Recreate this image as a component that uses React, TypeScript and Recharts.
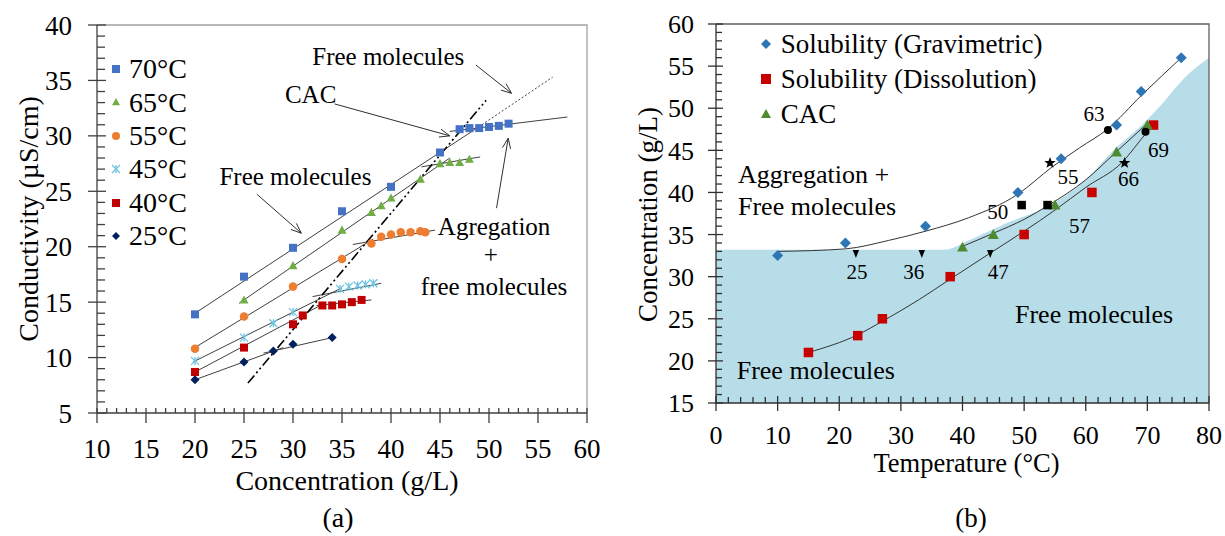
import React from 'react';
import { ComposedChart, Scatter, Line, Area, XAxis, YAxis, ReferenceLine, Legend } from 'recharts';

const SERIF = '"Liberation Serif", "Times New Roman", Times, serif';

const range = (a: number, b: number, step: number) => {
  const r: number[] = [];
  for (let v = a; v <= b + 1e-9; v += step) r.push(Math.round(v * 100) / 100);
  return r;
};

// ---------------- Panel (a) data ----------------
const aXTicks = [10, 15, 20, 25, 30, 35, 40, 45, 50, 55, 60];
const aYTicks = [5, 10, 15, 20, 25, 30, 35, 40];
const aXMinor = range(10, 60, 1);
const aYMinor = range(5, 40, 1);

const a70 = [
  { x: 20, y: 13.9 }, { x: 25, y: 17.3 }, { x: 30, y: 19.9 }, { x: 35, y: 23.2 }, { x: 40, y: 25.4 },
  { x: 45, y: 28.5 }, { x: 47, y: 30.6 }, { x: 48, y: 30.7 }, { x: 49, y: 30.7 }, { x: 50, y: 30.8 },
  { x: 51, y: 30.9 }, { x: 52, y: 31.1 },
];
const a65 = [
  { x: 25, y: 15.2 }, { x: 30, y: 18.3 }, { x: 35, y: 21.5 }, { x: 38, y: 23.1 }, { x: 39, y: 23.7 },
  { x: 40, y: 24.4 }, { x: 43, y: 26.1 }, { x: 45, y: 27.5 }, { x: 46, y: 27.6 }, { x: 47, y: 27.6 },
  { x: 48, y: 27.9 },
];
const a55 = [
  { x: 20, y: 10.8 }, { x: 25, y: 13.7 }, { x: 30, y: 16.4 }, { x: 35, y: 18.9 }, { x: 38, y: 20.3 },
  { x: 39, y: 20.9 }, { x: 40, y: 21.1 }, { x: 41, y: 21.3 }, { x: 42, y: 21.3 }, { x: 43, y: 21.4 },
  { x: 43.5, y: 21.3 },
];
const a45 = [
  { x: 20, y: 9.7 }, { x: 25, y: 11.8 }, { x: 28, y: 13.1 }, { x: 30, y: 14.1 }, { x: 34.8, y: 16.2 },
  { x: 35.7, y: 16.4 }, { x: 36.6, y: 16.5 }, { x: 37.4, y: 16.6 }, { x: 38.2, y: 16.7 },
];
const a40 = [
  { x: 20, y: 8.7 }, { x: 25, y: 10.9 }, { x: 30, y: 13.0 }, { x: 31, y: 13.8 }, { x: 33, y: 14.7 },
  { x: 34, y: 14.7 }, { x: 35, y: 14.8 }, { x: 36, y: 15.0 }, { x: 37, y: 15.2 },
];
const a25 = [
  { x: 20, y: 8.0 }, { x: 25, y: 9.6 }, { x: 28, y: 10.6 }, { x: 30, y: 11.2 }, { x: 34, y: 11.8 },
];

// trend lines (data space endpoints)
const aFitLines = [
  [[20, 14.0], [48.6, 30.6]],
  [[46, 30.4], [58, 31.7]],
  [[24.5, 14.9], [46, 28.0]],
  [[43.1, 27.2], [49.1, 28.1]],
  [[19.8, 10.8], [38.2, 20.7]],
  [[36.1, 20.2], [44.5, 21.5]],
  [[19.8, 9.6], [35, 16.3]],
  [[32, 15.5], [39, 16.7]],
  [[19.8, 8.6], [33, 14.8]],
  [[32.4, 14.7], [38, 15.2]],
  [[20, 8.0], [29, 10.9]],
  [[27, 10.4], [34, 11.8]],
];
const aDottedLine = [[48.6, 30.6], [56.5, 35.3]];
const aCacLine = [[25.4, 7.7], [49.7, 33.2]];
const aArrows = [
  [[48.66, 36.39], [52.3, 33.84]],
  [[34.25, 32.88], [46.0, 30.0]],
  [[26.31, 24.74], [30.85, 21.22]],
  [[50.77, 23.48], [51.96, 29.79]],
];
const aNotes = [
  { x: 39.72, y: 36.39, text: 'Free molecules' },
  { x: 31.8, y: 32.94, text: 'CAC' },
  { x: 30.25, y: 25.58, text: 'Free molecules' },
  { x: 50.52, y: 21.07, text: 'Agregation' },
  { x: 50.19, y: 18.57, text: '+' },
  { x: 50.52, y: 15.66, text: 'free molecules' },
];
// plot frame corners (data space)
const aAxisPath = [{ x: 60, y: 5 }, { x: 10, y: 5 }, { x: 10, y: 40 }];
const aFramePath = [{ x: 10, y: 40 }, { x: 60, y: 40 }, { x: 60, y: 5 }];

// ---------------- Panel (b) data ----------------
const bXTicks = [0, 10, 20, 30, 40, 50, 60, 70, 80];
const bYTicks = [15, 20, 25, 30, 35, 40, 45, 50, 55, 60];
const bXMinor = range(0, 80, 2);
const bYMinor = range(15, 60, 1);

const bGrav = [
  { x: 10, y: 32.5 }, { x: 21, y: 34 }, { x: 34, y: 36 }, { x: 49, y: 40 },
  { x: 56, y: 44 }, { x: 65, y: 48 }, { x: 69, y: 52 }, { x: 75.5, y: 56 },
];
const bDiss = [
  { x: 15, y: 21 }, { x: 23, y: 23 }, { x: 27, y: 25 }, { x: 38, y: 30 },
  { x: 50, y: 35 }, { x: 61, y: 40 }, { x: 71, y: 48 },
];
const bCac = [
  { x: 40, y: 33.5 }, { x: 45, y: 35 }, { x: 55, y: 38.5 }, { x: 65, y: 44.8 }, { x: 70, y: 48 },
];
const bGravCurve = [
  { x: 10, y: 33.0 }, { x: 21, y: 33.3 }, { x: 28, y: 34.3 }, { x: 34, y: 35.4 }, { x: 41, y: 37.0 },
  { x: 49, y: 39.8 }, { x: 54.5, y: 43.0 }, { x: 59, y: 45.3 }, { x: 63.5, y: 47.5 }, { x: 69, y: 51.5 },
  { x: 75.5, y: 56 },
];
const bDissCurve = [
  { x: 15, y: 21 }, { x: 23, y: 23.1 }, { x: 27, y: 24.7 }, { x: 33, y: 27.3 }, { x: 38, y: 29.7 },
  { x: 44.5, y: 32.8 }, { x: 50, y: 35.4 }, { x: 55, y: 37.9 }, { x: 60, y: 40.6 }, { x: 65.8, y: 43.5 },
  { x: 70, y: 47.2 }, { x: 71, y: 48 },
];
const bCacCurve = [
  { x: 40, y: 33.6 }, { x: 45, y: 35.15 }, { x: 50, y: 36.8 }, { x: 54, y: 38.5 }, { x: 60, y: 41.5 },
  { x: 65, y: 44.85 }, { x: 70, y: 48.2 },
];
const bRegion = [
  { x: 0, y: 33.2 }, { x: 37, y: 33.2 }, { x: 41, y: 34.3 }, { x: 47, y: 36.3 }, { x: 55, y: 38.8 },
  { x: 60, y: 41.5 }, { x: 64.5, y: 45 }, { x: 68.8, y: 47.8 }, { x: 72, y: 50.2 }, { x: 76, y: 53.6 },
  { x: 80, y: 56 },
];
const bTriDown = [{ x: 22.7, y: 32.7, label: '25' }, { x: 33.4, y: 32.7, label: '36' }, { x: 44.5, y: 32.7, label: '47' }];
const bBlackSq = [{ x: 49.6, y: 38.5, label: '50' }, { x: 53.8, y: 38.5, label: '57' }];
const bStars = [{ x: 54.2, y: 43.5, label: '55' }, { x: 66.3, y: 43.5, label: '66' }];
const bDots = [{ x: 63.6, y: 47.4, label: '63' }, { x: 69.7, y: 47.2, label: '69' }];
const bNotes = [
  { x: 3.57, y: 41.09, text: 'Aggregation +' },
  { x: 3.57, y: 37.32, text: 'Free molecules' },
  { x: 3.36, y: 17.9, text: 'Free molecules' },
  { x: 48.52, y: 24.45, text: 'Free molecules' },
];
const bAxisPath = [{ x: 80, y: 15 }, { x: 0, y: 15 }, { x: 0, y: 60 }];
const bFramePath = [{ x: 0, y: 60 }, { x: 80, y: 60 }, { x: 80, y: 15 }];

// ---------------- styles ----------------
const labelOffsetB: Record<string, [number, number]> = {
  '25': [1, 18], '36': [-8, 18], '47': [8, 18], '50': [-24, 7], '57': [32, 21],
  '55': [18, 14], '66': [4, 16], '63': [-14, -16], '69': [13, 18],
};

type Kind = 'square' | 'triangle' | 'circle' | 'asterisk' | 'diamond' | 'tridown' | 'star';

function Marker({ kind, cx, cy, size, color }: { kind: Kind; cx: number; cy: number; size: number; color: string }) {
  const h = size / 2;
  switch (kind) {
    case 'square':
      return <rect x={cx - h} y={cy - h} width={size} height={size} fill={color} />;
    case 'circle':
      return <circle cx={cx} cy={cy} r={h} fill={color} />;
    case 'triangle':
      return <polygon points={`${cx},${cy - h} ${cx + h},${cy + h * 0.8} ${cx - h},${cy + h * 0.8}`} fill={color} />;
    case 'tridown':
      return <polygon points={`${cx - h * 0.8},${cy - h} ${cx + h * 0.8},${cy - h} ${cx},${cy + h}`} fill={color} />;
    case 'diamond':
      return <polygon points={`${cx},${cy - h} ${cx + h},${cy} ${cx},${cy + h} ${cx - h},${cy}`} fill={color} />;
    case 'asterisk':
      return (
        <g stroke={color} strokeWidth={1.3}>
          <line x1={cx - h} y1={cy - h} x2={cx + h} y2={cy + h} />
          <line x1={cx - h} y1={cy + h} x2={cx + h} y2={cy - h} />
          <line x1={cx} y1={cy - h} x2={cx} y2={cy + h} />
        </g>
      );
    case 'star': {
      const pts: string[] = [];
      for (let i = 0; i < 10; i++) {
        const r = i % 2 === 0 ? h : h * 0.42;
        const ang = -Math.PI / 2 + (i * Math.PI) / 5;
        pts.push(`${cx + r * Math.cos(ang)},${cy + r * Math.sin(ang)}`);
      }
      return <polygon points={pts.join(' ')} fill={color} />;
    }
  }
  return null;
}

const aSeries = [
  { name: '70°C', data: a70, kind: 'square' as Kind, color: '#4472C4', size: 8 },
  { name: '65°C', data: a65, kind: 'triangle' as Kind, color: '#70AD47', size: 9 },
  { name: '55°C', data: a55, kind: 'circle' as Kind, color: '#ED7D31', size: 8.5 },
  { name: '45°C', data: a45, kind: 'asterisk' as Kind, color: '#6CC3E0', size: 8 },
  { name: '40°C', data: a40, kind: 'square' as Kind, color: '#C00000', size: 8 },
  { name: '25°C', data: a25, kind: 'diamond' as Kind, color: '#002060', size: 9 },
];
const bSeries = [
  { name: 'Solubility (Gravimetric)', data: bGrav, kind: 'diamond' as Kind, color: '#2E75B6', size: 11 },
  { name: 'Solubility (Dissolution)', data: bDiss, kind: 'square' as Kind, color: '#C80000', size: 9.5 },
  { name: 'CAC', data: bCac, kind: 'triangle' as Kind, color: '#4E8B30', size: 11 },
];

const AX_A = '#404040';
const AX_B = '#303030';

const ArrowShape = (props: any) => {
  const { x1, y1, x2, y2 } = props;
  const ang = Math.atan2(y2 - y1, x2 - x1);
  const L = 11;
  const a = 0.38;
  const p1 = `${x2 - L * Math.cos(ang - a)},${y2 - L * Math.sin(ang - a)}`;
  const p2 = `${x2 - L * Math.cos(ang + a)},${y2 - L * Math.sin(ang + a)}`;
  return (
    <g>
      <line x1={x1} y1={y1} x2={x2} y2={y2} stroke="#303030" strokeWidth={1} />
      <polyline points={`${p1} ${x2},${y2} ${p2}`} fill="none" stroke="#303030" strokeWidth={1} />
    </g>
  );
};

const makeLegend = (series: typeof aSeries, rowH: number, fontSize: number, gap: number, msize: number) => (props: any) => {
  const names = series.map((s) => s.name);
  const items = (props.payload || [])
    .filter((p: any) => names.includes(p.value))
    .sort((p: any, q: any) => names.indexOf(p.value) - names.indexOf(q.value));
  return (
    <div>
      {items.map((it: any) => {
        const s = series.find((z) => z.name === it.value)!;
        return (
          <div key={it.value} style={{ display: 'flex', alignItems: 'center', height: rowH }}>
            <svg width={16} height={16} style={{ flex: 'none', display: 'block' }}>
              <Marker kind={s.kind} cx={8} cy={8} size={msize} color={s.color} />
            </svg>
            <span style={{ marginLeft: gap, fontFamily: SERIF, fontSize, lineHeight: `${rowH}px`, color: '#000', whiteSpace: 'nowrap' }}>
              {it.value}
            </span>
          </div>
        );
      })}
    </div>
  );
};

const NoteA = (p: any) => (
  <text x={p.cx} y={p.cy} textAnchor="middle" fontFamily={SERIF} fontSize={25} fill="#000">
    {p.payload.text}
  </text>
);
const NoteB = (p: any) => (
  <text x={p.cx} y={p.cy} textAnchor="start" fontFamily={SERIF} fontSize={26} fill="#000">
    {p.payload.text}
  </text>
);
const blackMarker = (kind: Kind, size: number) => (p: any) => {
  const off = labelOffsetB[p.payload.label] || [0, 0];
  return (
    <g>
      <Marker kind={kind} cx={p.cx} cy={p.cy} size={size} color="#000" />
      <text x={p.cx + off[0]} y={p.cy + off[1]} textAnchor="middle" dominantBaseline="central" fontFamily={SERIF} fontSize={21} fill="#000">
        {p.payload.label}
      </text>
    </g>
  );
};

// tick marks drawn as scatter shapes placed on the axes through the chart scales
const xTickMark = (inner: number, outer: number, minorInner: number, color: string) => (p: any) => {
  const major = p.payload.major;
  const up = major ? inner : minorInner;
  const down = major ? outer : 0;
  return <line x1={p.cx} y1={p.cy - up} x2={p.cx} y2={p.cy + down} stroke={color} strokeWidth={1.3} />;
};
const yTickMark = (inner: number, outer: number, minorInner: number, color: string) => (p: any) => {
  const major = p.payload.major;
  const right = major ? inner : minorInner;
  const left = major ? outer : 0;
  return <line x1={p.cx - left} y1={p.cy} x2={p.cx + right} y2={p.cy} stroke={color} strokeWidth={1.3} />;
};
const NoShape = () => <g />;

const seg = (s: number[][]) => [{ x: s[0][0], y: s[0][1] }, { x: s[1][0], y: s[1][1] }];

export default function App() {
  const aXTickPts = aXMinor.map((v) => ({ x: v, y: 5, major: aXTicks.includes(v) }));
  const aYTickPts = aYMinor.map((v) => ({ x: 10, y: v, major: aYTicks.includes(v) }));
  const bXTickPts = bXMinor.map((v) => ({ x: v, y: 15, major: bXTicks.includes(v) }));
  const bYTickPts = bYMinor.map((v) => ({ x: 0, y: v, major: bYTicks.includes(v) }));
  return (
    <div style={{ position: 'absolute', left: 0, top: 0, width: 1225, height: 536, background: '#fff' }}>
      {/* Panel (a) */}
      <div style={{ position: 'absolute', left: 0, top: 0 }}>
        <ComposedChart width={612} height={536} margin={{ top: 25, right: 25, bottom: 122, left: 96 }}>
          <XAxis dataKey="x" type="number" domain={[10, 60]} ticks={aXTicks} interval={0} height={1}
            tickSize={10} tickMargin={16} axisLine={false} tickLine={false}
            tick={{ fontFamily: SERIF, fontSize: 27, fill: '#000' }} />
          <YAxis dataKey="y" type="number" domain={[5, 40]} ticks={aYTicks} interval={0} width={1}
            tickSize={9} tickMargin={16} axisLine={false} tickLine={false}
            tick={{ fontFamily: SERIF, fontSize: 27, fill: '#000' }} />
          <Scatter data={aFramePath} legendType="none" isAnimationActive={false} shape={NoShape}
            line={{ stroke: '#A0A0A0', strokeWidth: 1.3 }} lineType="joint" />
          <Scatter data={aAxisPath} legendType="none" isAnimationActive={false} shape={NoShape}
            line={{ stroke: AX_A, strokeWidth: 1.3 }} lineType="joint" />
          <Scatter data={aXTickPts} legendType="none" isAnimationActive={false} shape={xTickMark(5, 10, 5, AX_A)} />
          <Scatter data={aYTickPts} legendType="none" isAnimationActive={false} shape={yTickMark(9, 9, 8, AX_A)} />
          {aFitLines.map((s, i) => (
            <ReferenceLine key={'f' + i} segment={seg(s)} stroke="#404040" strokeWidth={1} ifOverflow="visible" />
          ))}
          <ReferenceLine segment={seg(aDottedLine)} stroke="#404040" strokeWidth={1} strokeDasharray="2 2" ifOverflow="visible" />
          <ReferenceLine segment={seg(aCacLine)} stroke="#000" strokeWidth={1.6} strokeDasharray="10 3 2 3 2 3" ifOverflow="visible" />
          {aArrows.map((s, i) => (
            <ReferenceLine key={'a' + i} segment={seg(s)} shape={ArrowShape} ifOverflow="visible" />
          ))}
          {aSeries.map((s) => (
            <Scatter key={s.name} name={s.name} data={s.data} fill={s.color} isAnimationActive={false}
              shape={(p: any) => <Marker kind={s.kind} cx={p.cx} cy={p.cy} size={s.size} color={s.color} />} />
          ))}
          <Scatter data={aNotes} legendType="none" isAnimationActive={false} shape={NoteA} />
          <Legend layout="vertical" align="center" verticalAlign="middle"
            wrapperStyle={{ left: 108, top: 52.3, width: 'auto', height: 'auto' }}
            content={makeLegend(aSeries, 33.4, 28, 5, 8)} />
        </ComposedChart>
      </div>

      {/* Panel (b) */}
      <div style={{ position: 'absolute', left: 612, top: 0 }}>
        <ComposedChart width={613} height={536} margin={{ top: 24, right: 16, bottom: 132, left: 103 }}>
          <XAxis dataKey="x" type="number" domain={[0, 80]} ticks={bXTicks} interval={0} height={1}
            tickSize={8} tickMargin={15} axisLine={false} tickLine={false}
            tick={{ fontFamily: SERIF, fontSize: 26, fill: '#000' }} />
          <YAxis dataKey="y" type="number" domain={[15, 60]} ticks={bYTicks} interval={0} width={1}
            tickSize={8} tickMargin={14} axisLine={false} tickLine={false}
            tick={{ fontFamily: SERIF, fontSize: 26, fill: '#000' }} />
          <Area data={bRegion} dataKey="y" type="monotone" fill="#B7DEE8" fillOpacity={1} stroke="none"
            baseValue={15} isAnimationActive={false} legendType="none" />
          <Scatter data={bFramePath} legendType="none" isAnimationActive={false} shape={NoShape}
            line={{ stroke: '#606060', strokeWidth: 1.3 }} lineType="joint" />
          <Scatter data={bAxisPath} legendType="none" isAnimationActive={false} shape={NoShape}
            line={{ stroke: AX_B, strokeWidth: 1.3 }} lineType="joint" />
          <Scatter data={bXTickPts} legendType="none" isAnimationActive={false} shape={xTickMark(7, 8, 6, AX_B)} />
          <Scatter data={bYTickPts} legendType="none" isAnimationActive={false} shape={yTickMark(7, 8, 6, AX_B)} />
          <Line data={bGravCurve} dataKey="y" type="monotone" stroke="#333" strokeWidth={1} dot={false}
            isAnimationActive={false} legendType="none" />
          <Line data={bDissCurve} dataKey="y" type="monotone" stroke="#333" strokeWidth={1} dot={false}
            isAnimationActive={false} legendType="none" />
          <Line data={bCacCurve} dataKey="y" type="monotone" stroke="#333" strokeWidth={1} dot={false}
            isAnimationActive={false} legendType="none" />
          {bSeries.map((s) => (
            <Scatter key={s.name} name={s.name} data={s.data} fill={s.color} isAnimationActive={false}
              shape={(p: any) => <Marker kind={s.kind} cx={p.cx} cy={p.cy} size={s.size} color={s.color} />} />
          ))}
          <Scatter data={bTriDown} legendType="none" isAnimationActive={false} shape={blackMarker('tridown', 8)} />
          <Scatter data={bBlackSq} legendType="none" isAnimationActive={false} shape={blackMarker('square', 8.5)} />
          <Scatter data={bStars} legendType="none" isAnimationActive={false} shape={blackMarker('star', 12)} />
          <Scatter data={bDots} legendType="none" isAnimationActive={false} shape={blackMarker('circle', 8)} />
          <Scatter data={bNotes} legendType="none" isAnimationActive={false} shape={NoteB} />
          <Legend layout="vertical" align="center" verticalAlign="middle"
            wrapperStyle={{ left: 145.7, top: 26.9, width: 'auto', height: 'auto' }}
            content={makeLegend(bSeries, 34.85, 27, 7, 10)} />
        </ComposedChart>
      </div>

      {/* axis titles and captions */}
      <svg width={1225} height={536} style={{ position: 'absolute', left: 0, top: 0, pointerEvents: 'none' }}>
        <g fontFamily={SERIF} fill="#000">
          <text x={38} y={219} transform="rotate(-90 38 219)" textAnchor="middle" fontSize={28}>Conductivity (µS/cm)</text>
          <text x={347} y={490} textAnchor="middle" fontSize={28}>Concentration (g/L)</text>
          <text x={338} y={527} textAnchor="middle" fontSize={28}>(a)</text>
          <text x={657} y={214.5} transform="rotate(-90 657 214.5)" textAnchor="middle" fontSize={27}>Concentration (g/L)</text>
          <text x={966.5} y={472} textAnchor="middle" fontSize={26.5}>Temperature (°C)</text>
          <text x={971} y={527} textAnchor="middle" fontSize={27}>(b)</text>
        </g>
      </svg>
    </div>
  );
}
